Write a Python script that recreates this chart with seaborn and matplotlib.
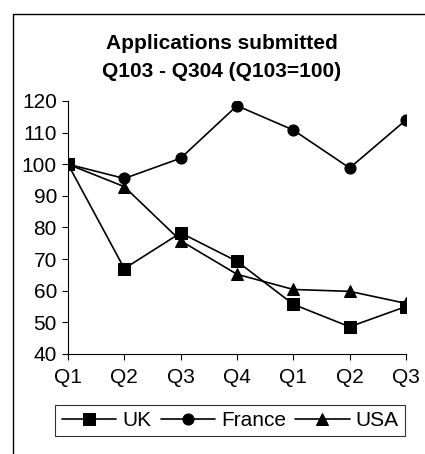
import pandas as pd
import seaborn as sns
import matplotlib.pyplot as plt
from matplotlib.lines import Line2D

# 분기별 지수 (Q103=100)
quarters = ['Q1', 'Q2', 'Q3', 'Q4', 'Q1', 'Q2', 'Q3']
uk = [100, 67, 78.3, 69.3, 55.7, 48.6, 55]
france = [100, 95.5, 101.9, 118.5, 110.8, 98.8, 114]
usa = [100, 92.9, 75.8, 65.2, 60.4, 59.8, 56]
countries = ['UK', 'France', 'USA']

df = pd.DataFrame({
    'pos': list(range(len(quarters))) * 3,
    'value': uk + france + usa,
    'country': [c for c in countries for _ in quarters],
})

sns.set_style('ticks')
plt.rcParams['font.family'] = ['Liberation Sans', 'DejaVu Sans']
plt.rcParams['text.color'] = 'black'

fig = plt.figure(figsize=(4.25, 4.54), dpi=100)
ax = fig.add_axes([0.16, 0.2203, 0.7953, 0.5573])

sns.lineplot(data=df, x='pos', y='value', hue='country', style='country',
             markers=['s', 'o', '^'], dashes=False, palette=['black'] * 3,
             markersize=8, linewidth=1.2, markeredgecolor='black', ax=ax)

ax.set_xlim(0, 6)
ax.set_ylim(40, 120)
ax.set_yticks(range(40, 121, 10))
ax.set_xticks(range(len(quarters)))
ax.set_xticklabels(quarters)
ax.set_xlabel('')
ax.set_ylabel('')
ax.tick_params(axis='both', labelsize=15, length=4, width=0.8, colors='black')
ax.tick_params(axis='x', pad=6)
ax.tick_params(axis='y', pad=4)
sns.despine(ax=ax)
for s in ['left', 'bottom']:
    ax.spines[s].set_color('black')
    ax.spines[s].set_linewidth(0.8)

ax.text(0.455, 1.172, 'Applications submitted\nQ103 - Q304 (Q103=100)',
        transform=ax.transAxes, ha='center', va='center', color='black',
        fontsize=15, fontweight='bold', linespacing=1.55)

leg = ax.legend(loc='center', bbox_to_anchor=(0.48, -0.263), ncol=3,
                fontsize=15, frameon=True, fancybox=False,
                handlelength=2.6, handletextpad=0.3, columnspacing=0.45,
                borderpad=0.3, title=None)
leg.get_frame().set_edgecolor('black')
leg.get_frame().set_linewidth(0.8)
for t in leg.get_texts():
    t.set_color('black')

# 차트 영역 테두리 (오른쪽/아래는 잘려 있음)
fig.add_artist(Line2D([13 / 425, 13 / 425], [0, 1 - 14 / 454], transform=fig.transFigure, color='black', lw=1))
fig.add_artist(Line2D([13 / 425, 1], [1 - 14 / 454, 1 - 14 / 454], transform=fig.transFigure, color='black', lw=1))

fig.savefig('out.png', dpi=100)
